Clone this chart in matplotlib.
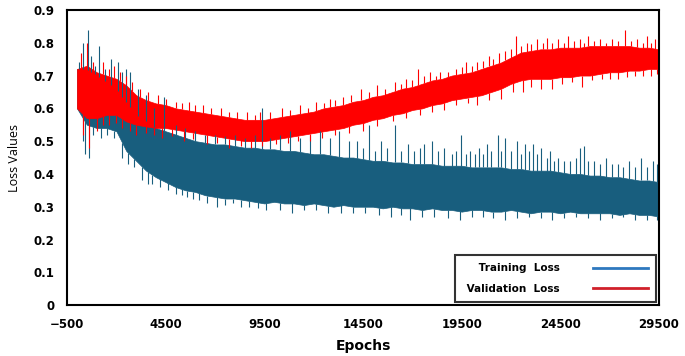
import numpy as np
import matplotlib
matplotlib.use("Agg")
import matplotlib.pyplot as plt
from matplotlib.ticker import FuncFormatter

# dense band of each curve, every 500 epochs
epochs = list(range(0, 30000, 500))

train_low = [0.60, 0.55, 0.54, 0.54, 0.53, 0.47, 0.44, 0.41, 0.39, 0.375,
             0.36, 0.35, 0.345, 0.335, 0.33, 0.325, 0.325, 0.32, 0.315, 0.31,
             0.315, 0.31, 0.31, 0.305, 0.31, 0.305, 0.30, 0.305, 0.30, 0.30,
             0.30, 0.295, 0.30, 0.295, 0.295, 0.29, 0.295, 0.29, 0.29, 0.285,
             0.29, 0.29, 0.285, 0.285, 0.29, 0.285, 0.28, 0.285, 0.285, 0.28,
             0.285, 0.28, 0.28, 0.28, 0.28, 0.275, 0.28, 0.275, 0.275, 0.27]
train_high = [0.72, 0.72, 0.70, 0.68, 0.66, 0.62, 0.58, 0.56, 0.54, 0.53,
              0.52, 0.51, 0.50, 0.495, 0.49, 0.49, 0.485, 0.48, 0.48, 0.475,
              0.475, 0.47, 0.47, 0.465, 0.46, 0.46, 0.455, 0.45, 0.45, 0.445,
              0.44, 0.44, 0.435, 0.435, 0.43, 0.43, 0.43, 0.425, 0.425, 0.425,
              0.42, 0.42, 0.42, 0.42, 0.415, 0.415, 0.41, 0.41, 0.41, 0.405,
              0.40, 0.40, 0.395, 0.395, 0.39, 0.39, 0.385, 0.38, 0.38, 0.375]

val_low = [0.60, 0.57, 0.57, 0.58, 0.58, 0.56, 0.55, 0.545, 0.54, 0.54,
           0.535, 0.53, 0.525, 0.52, 0.515, 0.51, 0.505, 0.50, 0.50, 0.50,
           0.505, 0.51, 0.515, 0.52, 0.525, 0.53, 0.535, 0.54, 0.55, 0.555,
           0.565, 0.57, 0.58, 0.585, 0.595, 0.60, 0.61, 0.615, 0.625, 0.63,
           0.635, 0.64, 0.65, 0.66, 0.675, 0.685, 0.69, 0.69, 0.69, 0.695,
           0.695, 0.70, 0.70, 0.705, 0.71, 0.71, 0.715, 0.715, 0.72, 0.72]
val_high = [0.72, 0.73, 0.71, 0.70, 0.69, 0.67, 0.64, 0.625, 0.615, 0.61,
            0.60, 0.595, 0.59, 0.585, 0.58, 0.575, 0.57, 0.565, 0.565, 0.565,
            0.57, 0.575, 0.58, 0.585, 0.59, 0.60, 0.605, 0.61, 0.62, 0.625,
            0.635, 0.64, 0.65, 0.66, 0.665, 0.675, 0.685, 0.69, 0.70, 0.705,
            0.71, 0.72, 0.73, 0.74, 0.755, 0.77, 0.775, 0.78, 0.78, 0.785,
            0.785, 0.785, 0.79, 0.79, 0.79, 0.79, 0.79, 0.785, 0.785, 0.78]

# isolated spikes sticking out of the bands
train_up_x = [100, 300, 550, 700, 900, 1100, 1400, 1700, 2100, 2300, 2500, 2700,
              3100, 3500, 3900, 4400, 5000, 5500, 6000, 6500, 7000, 7500, 8000,
              8500, 9000, 9400, 9800, 10300, 10800, 11300, 11800, 12300, 12800,
              13300, 13800, 14200, 14500, 14800, 15100, 15400, 15700, 16100, 16400,
              16800, 17100, 17400, 17600, 18000, 18300, 18600, 19000, 19200, 19450,
              19700, 19900, 20200, 20400, 20600, 20800, 21000, 21330, 21500, 21700,
              22000, 22300, 22500, 22700, 22900, 23100, 23300, 23500, 23800, 24000,
              24200, 24400, 24700, 25000, 25300, 25500, 25700, 25900, 26200, 26500,
              26800, 27100, 27400, 27700, 28000, 28300, 28600, 28900, 29200, 29400]
train_up_y = [0.74, 0.80, 0.84, 0.76, 0.73, 0.79, 0.72, 0.75, 0.74, 0.71, 0.72, 0.71,
              0.66, 0.64, 0.60, 0.635, 0.55, 0.54, 0.53, 0.52, 0.52, 0.515, 0.52,
              0.51, 0.52, 0.60, 0.51, 0.52, 0.53, 0.51, 0.52, 0.53, 0.51,
              0.53, 0.50, 0.50, 0.48, 0.55, 0.47, 0.50, 0.48, 0.55, 0.47,
              0.49, 0.47, 0.48, 0.49, 0.50, 0.47, 0.48, 0.46, 0.47, 0.52,
              0.46, 0.47, 0.46, 0.48, 0.46, 0.49, 0.47, 0.52, 0.47, 0.51,
              0.47, 0.50, 0.46, 0.49, 0.47, 0.49, 0.46, 0.48, 0.45, 0.47,
              0.44, 0.45, 0.44, 0.44, 0.45, 0.48, 0.485, 0.44, 0.44, 0.43,
              0.45, 0.43, 0.43, 0.42, 0.44, 0.42, 0.45, 0.42, 0.44, 0.43]

train_dn_x = [300, 400, 600, 800, 1200, 1500, 1900, 2300, 2600, 2900, 3300, 3600,
              3800, 4200, 4600, 5000, 5300, 5600, 5900, 6200, 6600, 7100, 7500,
              7900, 8300, 8700, 9200, 9600, 10300, 10900, 11500, 12100, 12700,
              13400, 14000, 14600, 15300, 15900, 16400, 16900, 17500, 18100, 18800,
              19400, 20000, 20600, 21100, 21700, 22300, 22900, 23500, 24100, 24700,
              25300, 25900, 26500, 27100, 27700, 28300, 28900, 29400]
train_dn_y = [0.50, 0.46, 0.45, 0.52, 0.51, 0.52, 0.51, 0.45, 0.43, 0.42, 0.38, 0.37,
              0.37, 0.36, 0.35, 0.34, 0.335, 0.33, 0.325, 0.32, 0.31, 0.30, 0.305,
              0.31, 0.30, 0.30, 0.295, 0.29, 0.29, 0.28, 0.29, 0.29, 0.28,
              0.28, 0.28, 0.28, 0.275, 0.27, 0.275, 0.26, 0.27, 0.27, 0.265,
              0.26, 0.27, 0.27, 0.265, 0.26, 0.265, 0.27, 0.265, 0.26, 0.265,
              0.27, 0.265, 0.26, 0.265, 0.27, 0.26, 0.26, 0.26]

val_up_x = [200, 500, 800, 1300, 1600, 1900, 2200, 2500, 2800, 3200, 3600, 4100,
            4500, 5000, 5300, 5700, 6000, 6400, 6800, 7300, 7700, 8100, 8600,
            9000, 9300, 9800, 10400, 10800, 11300, 11700, 12100, 12500, 12800,
            13100, 13460, 13900, 14400, 14800, 15200, 15600, 16100, 16400, 16700,
            17000, 17270, 17600, 17900, 18200, 18400, 18800, 19200, 19500, 19700,
            20000, 20300, 20600, 20900, 21100, 21400, 21700, 22000, 22240, 22500,
            22800, 23000, 23300, 23600, 23800, 24100, 24400, 24700, 24900, 25200,
            25500, 25700, 25900, 26200, 26500, 26800, 27100, 27400, 27800, 28100,
            28400, 28700, 28900, 29100, 29300]
val_up_y = [0.77, 0.80, 0.74, 0.74, 0.72, 0.73, 0.71, 0.70, 0.68, 0.66, 0.65, 0.64,
            0.63, 0.62, 0.615, 0.62, 0.61, 0.61, 0.60, 0.60, 0.59, 0.59, 0.59,
            0.58, 0.59, 0.59, 0.60, 0.595, 0.61, 0.60, 0.62, 0.615, 0.63,
            0.625, 0.635, 0.64, 0.66, 0.65, 0.67, 0.66, 0.68, 0.675, 0.69,
            0.685, 0.72, 0.70, 0.71, 0.70, 0.71, 0.71, 0.72, 0.725, 0.74,
            0.73, 0.74, 0.745, 0.76, 0.75, 0.77, 0.775, 0.78, 0.82, 0.79,
            0.80, 0.795, 0.81, 0.80, 0.815, 0.80, 0.81, 0.80, 0.82, 0.805,
            0.81, 0.80, 0.82, 0.805, 0.81, 0.80, 0.81, 0.805, 0.84, 0.805,
            0.81, 0.80, 0.82, 0.80, 0.81]

val_dn_x = [300, 600, 1000, 1300, 1600, 2000, 2300, 2700, 3000, 3500, 3900, 4300,
            4800, 5400, 5900, 6600, 7100, 7700, 8300, 8800, 9400, 10100, 10700,
            11200, 11800, 12400, 13100, 13800, 14500, 15200, 16000, 16700, 17400,
            18000, 18600, 19200, 19800, 20300, 20900, 21500, 22100, 22600, 23000,
            23500, 24100, 24600, 25100, 25600, 26100, 26600, 27000, 27400, 27900,
            28300, 28700, 29100, 29400]
val_dn_y = [0.52, 0.48, 0.53, 0.55, 0.55, 0.555, 0.54, 0.53, 0.52, 0.525, 0.52, 0.51,
            0.515, 0.50, 0.505, 0.49, 0.495, 0.48, 0.485, 0.48, 0.485, 0.49, 0.495,
            0.50, 0.50, 0.51, 0.52, 0.525, 0.53, 0.545, 0.56, 0.57, 0.58,
            0.59, 0.595, 0.61, 0.615, 0.61, 0.625, 0.63, 0.65, 0.65, 0.665,
            0.66, 0.66, 0.675, 0.68, 0.665, 0.685, 0.69, 0.69, 0.69, 0.695,
            0.70, 0.70, 0.70, 0.705]

TRAIN_C = '#185e7e'
VAL_C = '#ff0000'

fig = plt.figure(figsize=(6.85, 3.56), dpi=100)
ax = fig.add_axes([0.098, 0.143, 0.864, 0.829])

# training loss
ax.fill_between(epochs, train_low, train_high, color=TRAIN_C, lw=0.5)
base = np.interp(train_up_x, epochs, train_high)
ax.vlines(train_up_x, base, train_up_y, color=TRAIN_C, lw=0.8)
base = np.interp(train_dn_x, epochs, train_low)
ax.vlines(train_dn_x, train_dn_y, base, color=TRAIN_C, lw=0.8)

# validation loss
ax.fill_between(epochs, val_low, val_high, color=VAL_C, lw=0.5)
base = np.interp(val_up_x, epochs, val_high)
ax.vlines(val_up_x, base, val_up_y, color=VAL_C, lw=0.8)
base = np.interp(val_dn_x, epochs, val_low)
ax.vlines(val_dn_x, val_dn_y, base, color=VAL_C, lw=0.8)

# legend entries
ax.plot([], [], color='#2e78be', lw=2, label=' Training  Loss')
ax.plot([], [], color='#d0202a', lw=2, label=' Validation  Loss')
leg = ax.legend(loc='lower right', markerfirst=False, frameon=True, fancybox=False,
                handlelength=5.2, handletextpad=3.2, borderpad=0.8, labelspacing=1.0,
                borderaxespad=0.3, prop={'family': 'DejaVu Sans', 'weight': 'bold', 'size': 7.5})
leg.get_frame().set_edgecolor('black')
leg.get_frame().set_linewidth(1.5)

ax.set_xlim(-500, 29500)
ax.set_ylim(0, 0.9)
ax.set_xticks(np.arange(-500, 30000, 5000))
ax.set_yticks(np.arange(0, 0.91, 0.1))
ax.yaxis.set_major_formatter(FuncFormatter(lambda v, p: '0' if abs(v) < 1e-9 else f'{v:.1f}'))
ax.tick_params(length=0, pad=9, labelsize=8.5)
for lab in ax.get_xticklabels() + ax.get_yticklabels():
    lab.set_fontweight('bold')
for sp in ax.spines.values():
    sp.set_linewidth(1.5)
    sp.set_color('black')

ax.set_xlabel('Epochs', fontsize=10, fontweight='bold', labelpad=6)
ax.set_ylabel('Loss Values', fontsize=9, family='Open Sans', labelpad=9)

fig.savefig('out.png', dpi=100)
